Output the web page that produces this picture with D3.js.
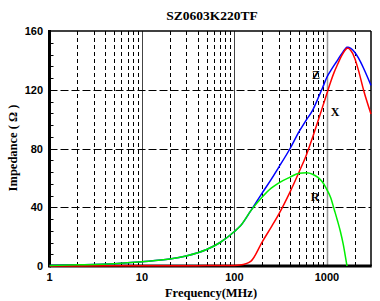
<!DOCTYPE html>
<html>
<head>
<meta charset="utf-8">
<script src="https://cdn.jsdelivr.net/npm/d3@7"></script>
<style>
  body { margin: 0; background: #fff; }
  svg { display: block; }
</style>
</head>
<body>
<div id="chart"></div>
<script>
// frequency points (MHz) and impedance curves (ohm)
const freq = [1, 2, 5, 10, 20, 30, 50, 70, 100, 115, 150, 200, 250, 300, 400, 500, 600, 700, 800, 900, 1000, 1100, 1200, 1300, 1400, 1500, 1600, 1650, 1700, 1800, 2000, 2200, 2500, 3000];
const zValues = [0.4, 0.8, 1.6, 2.9, 4.7, 6.8, 11.2, 16, 23.5, 27, 37.5, 49.8, 59, 67, 80, 91.5, 99.5, 106, 114, 121.5, 128.5, 133, 136.8, 140, 143.2, 146, 148.3, 148.9, 149, 148.3, 145.5, 141.5, 134.5, 123];
const xValues = [0.05, 0.05, 0.1, 0.1, 0.15, 0.2, 0.3, 0.35, 0.4, 0.7, 3.2, 16.5, 26.5, 35, 50.5, 64, 75.6, 87.5, 98.5, 108.5, 117.5, 125.5, 132, 137, 141.5, 145, 147.5, 148.2, 148.3, 147, 141.5, 133, 119.5, 103.5];
const rValues = [0.4, 0.8, 1.6, 2.9, 4.7, 6.8, 11.2, 16, 23.5, 27, 37.5, 47, 53, 56.5, 60.5, 63.2, 63.5, 62.5, 60.3, 57, 52, 46.5, 38.5, 31, 23.5, 15, 5, 0, null, null, null, null, null, null];

const xTicks = [1, 10, 100, 1000];
const yTicks = [0, 40, 80, 120, 160];
const curveLabels = [
  { text: 'Z', f: 762, v: 127 },
  { text: 'X', f: 1224, v: 102 },
  { text: 'R', f: 744, v: 44 }
];

const width = 380, height = 301;
const svg = d3.select('#chart').append('svg')
  .attr('width', width)
  .attr('height', height);

const x = d3.scaleLog().domain([1, 3000]).range([49.5, 371]);
const y = d3.scaleLinear().domain([0, 160]).range([266, 31]);

// Title
svg.append('text')
  .attr('x', 212)
  .attr('y', 20)
  .attr('text-anchor', 'middle')
  .style('font-family', '"Liberation Serif", "Times New Roman", serif')
  .style('font-weight', 'bold')
  .style('font-size', '13.5px')
  .text('SZ0603K220TF');

// Vertical grid
const minorFreqs = [];
[1, 10, 100, 1000].forEach(d => {
  for (let k = 2; k <= 9; k++) {
    if (d * k < 3000) minorFreqs.push(d * k);
  }
});
svg.append('g')
  .selectAll('line')
  .data(minorFreqs)
  .enter()
  .append('line')
  .attr('x1', d => Math.round(x(d)) + 0.5)
  .attr('x2', d => Math.round(x(d)) + 0.5)
  .attr('y1', y(160))
  .attr('y2', y(0))
  .attr('stroke', '#000')
  .attr('stroke-width', 1)
  .attr('stroke-dasharray', '4,3');

svg.append('g')
  .selectAll('line')
  .data([10, 100, 1000])
  .enter()
  .append('line')
  .attr('x1', d => Math.round(x(d)) + 0.5)
  .attr('x2', d => Math.round(x(d)) + 0.5)
  .attr('y1', y(160))
  .attr('y2', y(0))
  .attr('stroke', d => d === 1000 ? '#999' : '#444')
  .attr('stroke-width', d => d === 1000 ? 1.5 : 1);

// Horizontal grid
svg.append('g')
  .selectAll('line')
  .data([40, 80, 120])
  .enter()
  .append('line')
  .attr('x1', x(1))
  .attr('x2', x(3000))
  .attr('y1', d => Math.round(y(d)) + 0.5)
  .attr('y2', d => Math.round(y(d)) + 0.5)
  .attr('stroke', '#000')
  .attr('stroke-width', 1)
  .attr('stroke-dasharray', '8,3');

// Frame
svg.append('line')
  .attr('x1', x(1)).attr('x2', x(3000))
  .attr('y1', y(160)).attr('y2', y(160))
  .attr('stroke', '#000').attr('stroke-width', 1.5);
svg.append('line')
  .attr('x1', x(3000)).attr('x2', x(3000))
  .attr('y1', y(160)).attr('y2', y(0))
  .attr('stroke', '#000').attr('stroke-width', 1.5);

// Y minor ticks (every 8)
const yMinor = d3.range(8, 160, 8).filter(v => v % 40 !== 0);
svg.append('g')
  .selectAll('line')
  .data(yMinor)
  .enter()
  .append('line')
  .attr('x1', x(1))
  .attr('x2', x(1) + 4)
  .attr('y1', d => Math.round(y(d)) + 0.5)
  .attr('y2', d => Math.round(y(d)) + 0.5)
  .attr('stroke', '#000')
  .attr('stroke-width', 1);

// Left and bottom axes (thick)
svg.append('line')
  .attr('x1', x(1)).attr('x2', x(1))
  .attr('y1', y(160) - 1).attr('y2', y(0) + 1.5)
  .attr('stroke', '#000').attr('stroke-width', 3);
svg.append('line')
  .attr('x1', x(1)).attr('x2', x(3000) + 0.75)
  .attr('y1', y(0)).attr('y2', y(0))
  .attr('stroke', '#000').attr('stroke-width', 3);

// Tick labels
svg.append('g')
  .selectAll('text')
  .data(yTicks)
  .enter()
  .append('text')
  .attr('x', 43)
  .attr('y', d => y(d) + 4)
  .attr('text-anchor', 'end')
  .style('font-family', '"Liberation Sans", Arial, sans-serif')
  .style('font-weight', 'bold')
  .style('font-size', '11px')
  .text(d => d);

svg.append('g')
  .selectAll('text')
  .data(xTicks)
  .enter()
  .append('text')
  .attr('x', d => x(d))
  .attr('y', 281)
  .attr('text-anchor', 'middle')
  .style('font-family', '"Liberation Sans", Arial, sans-serif')
  .style('font-weight', 'bold')
  .style('font-size', '11px')
  .text(d => d);

// Axis titles
svg.append('text')
  .attr('x', 211)
  .attr('y', 297)
  .attr('text-anchor', 'middle')
  .style('font-family', '"Liberation Serif", "Times New Roman", serif')
  .style('font-weight', 'bold')
  .style('font-size', '12.5px')
  .text('Frequency(MHz)');

svg.append('text')
  .attr('transform', 'translate(17,148) rotate(-90)')
  .attr('text-anchor', 'middle')
  .style('font-family', '"Liberation Serif", "Times New Roman", serif')
  .style('font-weight', 'bold')
  .style('font-size', '12.5px')
  .text('Impedance ( Ω )');

// Curves
const series = [
  { name: 'Z', values: zValues, color: '#0000ff' },
  { name: 'X', values: xValues, color: '#ff0000' },
  { name: 'R', values: rValues, color: '#00ee00' }
];

const line = d3.line()
  .defined(d => d.v !== null)
  .x(d => x(d.f))
  .y(d => y(d.v))
  .curve(d3.curveMonotoneX);

series.forEach(s => {
  const pts = freq.map((f, i) => ({ f: f, v: s.values[i] }));
  svg.append('path')
    .datum(pts)
    .attr('fill', 'none')
    .attr('stroke', s.color)
    .attr('stroke-width', 1.5)
    .attr('d', line);
});

// Curve labels
svg.append('g')
  .selectAll('text')
  .data(curveLabels)
  .enter()
  .append('text')
  .attr('x', d => x(d.f))
  .attr('y', d => y(d.v))
  .attr('text-anchor', 'middle')
  .style('font-family', '"Liberation Serif", "Times New Roman", serif')
  .style('font-weight', 'bold')
  .style('font-size', '12px')
  .text(d => d.text);
</script>
</body>
</html>
